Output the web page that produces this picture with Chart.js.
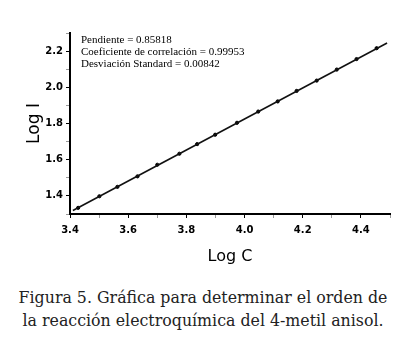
<!DOCTYPE html>
<html>
<head>
<meta charset="utf-8">
<script src="https://cdn.jsdelivr.net/npm/chart.js@4/dist/chart.umd.min.js"></script>
<style>
  body { margin: 0; background: #fff; }
  .wrap { position: relative; width: 406px; height: 270px; }
  .caption {
    width: 406px; text-align: center;
    font-family: "DejaVu Serif", serif; font-size: 15.8px; line-height: 23px;
    color: #222; margin-top: 16px; white-space: nowrap;
  }
</style>
</head>
<body>
<div class="wrap"><canvas id="myChart"></canvas></div>
<div class="caption">Figura 5. Gráfica para determinar el orden de<br>la reacción electroquímica del 4-metil anisol.</div>
<script>
var logC = [3.428, 3.501, 3.563, 3.632, 3.700, 3.776, 3.837, 3.899, 3.974, 4.047, 4.114, 4.179, 4.248, 4.317, 4.385, 4.454];
var logI = [1.334, 1.398, 1.450, 1.508, 1.572, 1.633, 1.686, 1.738, 1.804, 1.866, 1.922, 1.980, 2.037, 2.098, 2.156, 2.216];
// fitted line ends
var fitC = [3.41, 4.49];
var fitI = [1.319, 2.245];
var statLines = ["Pendiente = 0.85818", "Coeficiente de correlación = 0.99953", "Desviación Standard = 0.00842"];

var statsText = {
    id: 'statsText',
    afterDraw: function(chart) {
        var c = chart.ctx;
        c.save();
        c.font = '11px "Liberation Serif"';
        c.fillStyle = '#000';
        c.textBaseline = 'middle';
        statLines.forEach(function(t, i) {
            c.fillText(t, 81, 40 + i * 12);
        });
        c.restore();
    }
};

function tickLabel(v) {
    var n = Math.round(v * 10);
    return n % 2 === 0 ? (n / 10).toFixed(1) : '';
}

var ctx = document.getElementById('myChart').getContext('2d');
var chart = new Chart(ctx, {
    type: 'scatter',
    data: {
        datasets: [{
            data: fitC.map(function(x, i) { return {x: x, y: fitI[i]}; }),
            showLine: true,
            borderColor: '#111',
            borderWidth: 1.6,
            pointRadius: 0
        }, {
            data: logC.map(function(x, i) { return {x: x, y: logI[i]}; }),
            showLine: false,
            backgroundColor: '#000',
            borderColor: '#000',
            pointRadius: 1.6
        }]
    },
    options: {
        responsive: true,
        maintainAspectRatio: false,
        animation: false,
        layout: { padding: { left: 20, right: 16, top: 33, bottom: 0 } },
        plugins: { legend: { display: false }, tooltip: { enabled: false } },
        scales: {
            x: {
                min: 3.4, max: 4.5,
                ticks: {
                    stepSize: 0.1, autoSkip: false, maxRotation: 0,
                    color: '#000', padding: 6,
                    font: { family: 'DejaVu Sans', size: 10, weight: 'bold' },
                    callback: tickLabel
                },
                grid: {
                    drawOnChartArea: false, tickLength: 4,
                    tickColor: function(c) { return Math.round(c.tick.value * 10) % 2 === 0 ? '#000' : '#999'; }
                },
                border: { color: '#000', width: 2 },
                title: { display: true, text: 'Log C', color: '#000', font: { family: 'DejaVu Sans', size: 16 }, padding: { top: 2 } },
                afterFit: function(s) { s.height = 56; }
            },
            y: {
                min: 1.3, max: 2.3,
                ticks: {
                    stepSize: 0.1, autoSkip: false,
                    color: '#000', padding: 3,
                    font: { family: 'DejaVu Sans', size: 10, weight: 'bold' },
                    callback: tickLabel
                },
                grid: {
                    drawOnChartArea: false, tickLength: 4,
                    tickColor: function(c) { return Math.round(c.tick.value * 10) % 2 === 0 ? '#000' : '#999'; }
                },
                border: { color: '#000', width: 2 },
                title: { display: true, text: 'Log I', color: '#000', font: { family: 'DejaVu Sans', size: 17 }, padding: { bottom: 4 } },
                afterFit: function(s) { s.width = 50; }
            }
        }
    },
    plugins: [statsText]
});
</script>
</body>
</html>
